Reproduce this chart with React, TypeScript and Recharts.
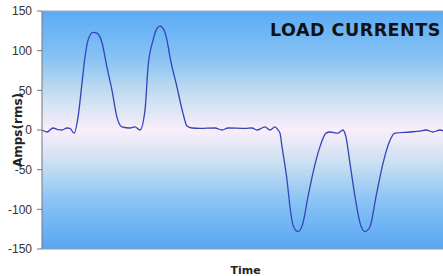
import React from 'react';
import { LineChart, Line, XAxis, YAxis, CartesianGrid, ReferenceLine } from 'recharts';

const times = [0, 5, 11, 16, 20, 25, 28, 32, 36, 40, 43, 46, 51, 55, 60, 65, 70, 75, 80, 88, 93, 98, 103, 106, 111, 115, 118, 122, 125, 128, 135, 141, 145, 150, 158, 173, 180, 186, 203, 210, 215, 220, 223, 228, 233, 236, 238, 240, 245, 248, 251, 256, 261, 266, 271, 278, 284, 288, 296, 301, 304, 308, 313, 318, 323, 328, 334, 341, 348, 353, 368, 378, 384, 391, 398, 401];
const amps = [0, -2.5, 2.5, 0.6, 0, 2.5, 2, -4, 16, 59, 92, 113, 123, 122, 110, 79, 50, 16, 4, 2.5, 4, 0, 25, 79, 113, 128, 131, 126, 113, 92, 54, 21, 5, 2.5, 2, 2.5, 0, 2.5, 2, 2.5, 0, 2.5, 4, 0, 4, 0, -4, -21, -63, -97, -120, -128, -117, -84, -54, -21, -4, -2.5, -4, 0, -9, -42, -84, -117, -128, -122, -84, -42, -13, -4, -2.5, -1.3, 0, -2.5, 0, -1];
const yTicks = [-150, -100, -50, 0, 50, 100, 150];

const data = times.map((t, i) => ({ t, a: amps[i] }));

export default function App() {
  return (
    <div style={{ position: 'absolute', left: 0, top: 0, width: 443, height: 276, background: '#fff' }}>
      <LineChart width={443} height={276} data={data} margin={{ top: 11, right: 0, bottom: 0, left: 0 }}>
        <defs>
          <linearGradient id="bg" x1="0" y1="0" x2="0" y2="1">
            <stop offset="0%" stopColor="#5aabf5" />
            <stop offset="20%" stopColor="#88c3f3" />
            <stop offset="36%" stopColor="#cadff1" />
            <stop offset="50%" stopColor="#faeefa" />
            <stop offset="64%" stopColor="#cadff1" />
            <stop offset="80%" stopColor="#88c3f5" />
            <stop offset="100%" stopColor="#58a6f2" />
          </linearGradient>
        </defs>
        <CartesianGrid fill="url(#bg)" horizontal={false} vertical={false} />
        <XAxis
          dataKey="t"
          type="number"
          domain={[0, 401]}
          tick={false}
          tickLine={false}
          height={27}
          stroke="#999"
          label={{ value: 'Time', position: 'insideBottom', offset: 2, dx: 3, style: { fontFamily: 'DejaVu Sans', fontWeight: 'bold', fontSize: 11, fill: '#222' } }}
        />
        <YAxis
          domain={[-150, 150]}
          ticks={yTicks}
          width={42}
          tickSize={5}
          tickMargin={5}
          stroke="#777"
          tick={{ fontFamily: 'Liberation Sans, Arial', fontSize: 12, fill: '#333' }}
          label={{ value: 'Amps(rms)', angle: -90, position: 'insideLeft', offset: 18, style: { fontFamily: 'DejaVu Sans', fontWeight: 'bold', fontSize: 12, fill: '#222', textAnchor: 'middle' } }}
        />
        <ReferenceLine y={150} stroke="#aaa" />
        <Line type="monotone" dataKey="a" stroke="#3344b8" strokeWidth={1.3} dot={false} isAnimationActive={false} />
        <text x={270} y={36} fontFamily="DejaVu Sans" fontWeight="bold" fontSize={17.5} fill="#111" letterSpacing={0.5}>LOAD CURRENTS</text>
      </LineChart>
    </div>
  );
}
